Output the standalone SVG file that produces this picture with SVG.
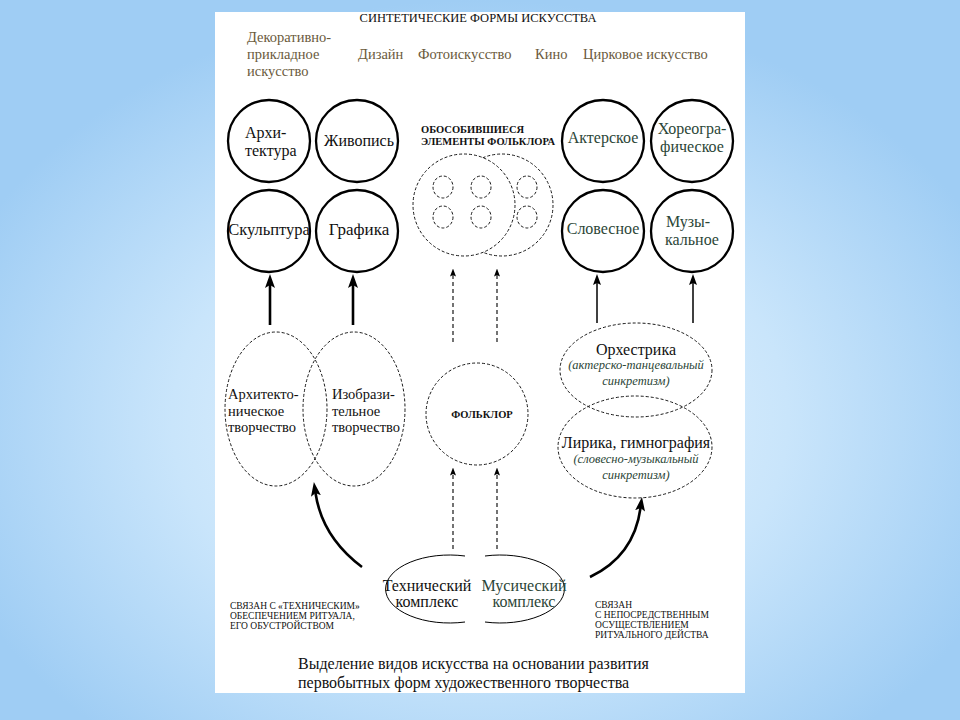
<svg xmlns="http://www.w3.org/2000/svg" width="960" height="720" viewBox="0 0 960 720">
<defs>
<radialGradient id="bg" cx="480" cy="420" r="560" gradientUnits="userSpaceOnUse" gradientTransform="translate(480 420) scale(1 0.75) translate(-480 -420)">
<stop offset="0" stop-color="#eef7fe"/>
<stop offset="0.55" stop-color="#c9e5fb"/>
<stop offset="1" stop-color="#9fcdf4"/>
</radialGradient>
<marker id="ah" markerUnits="userSpaceOnUse" markerWidth="14" markerHeight="10" refX="3" refY="5" orient="auto" viewBox="0 0 14 10">
<path d="M0,0 L14,5 L0,10 L3,5 Z" fill="#000"/>
</marker>
<marker id="ahs" markerUnits="userSpaceOnUse" markerWidth="11" markerHeight="8" refX="2" refY="4" orient="auto" viewBox="0 0 11 8">
<path d="M0,0 L11,4 L0,8 L2,4 Z" fill="#000"/>
</marker>
<marker id="ahd" markerUnits="userSpaceOnUse" markerWidth="8" markerHeight="6" refX="1.5" refY="3" orient="auto" viewBox="0 0 8 6">
<path d="M0,0 L8,3 L0,6 L1.5,3 Z" fill="#000"/>
</marker>
</defs>
<style>
text{font-family:"Liberation Serif","Times New Roman",serif;fill:#111}
.solid{fill:#fff;stroke:#000;stroke-width:2.3}
.dash{fill:none;stroke:#000;stroke-width:0.9;stroke-dasharray:3 2}
.dashw{fill:#fff;stroke:#000;stroke-width:0.9;stroke-dasharray:3 2}
.t15{font-size:15px}
.t16{font-size:16px}
.brown{fill:#6a5a3c;font-size:14.5px}
.green{fill:#2c4637}
.it{font-style:italic;font-size:12.5px;fill:#2c4637}
.caps{font-size:10.5px;font-weight:bold}
.small{font-size:9.5px}
.mid{text-anchor:middle}
.conn-solid{fill:none;stroke:#000;stroke-width:2.6}
.conn-thin{fill:none;stroke:#000;stroke-width:1.5}
.conn-dash{fill:none;stroke:#000;stroke-width:1.1;stroke-dasharray:4 3}
</style>
<rect x="0" y="0" width="960" height="720" fill="url(#bg)"/>
<rect x="215" y="12" width="530" height="681" fill="#fff"/>

<g id="title">
<text x="478" y="22" class="mid" style="font-size:12.5px">СИНТЕТИЧЕСКИЕ ФОРМЫ ИСКУССТВА</text>
</g>
<g id="synthetic-forms">
<text class="brown" x="247" y="42">Декоративно-</text>
<text class="brown" x="247" y="59">прикладное</text>
<text class="brown" x="247" y="76">искусство</text>
<text class="brown" x="358" y="59">Дизайн</text>
<text class="brown" x="418" y="59">Фотоискусство</text>
<text class="brown" x="535" y="59">Кино</text>
<text class="brown" x="583" y="59">Цирковое искусство</text>
</g>

<g id="arhitektura"><circle class="solid" cx="269" cy="141" r="41"/>
<text class="t16" x="245" y="138">Архи-</text><text class="t16" x="245" y="156">тектура</text></g>
<g id="zhivopis"><circle class="solid" cx="357" cy="141" r="41"/>
<text class="t16 mid" x="359" y="146">Живопись</text></g>
<g id="skulptura"><circle class="solid" cx="269" cy="231" r="41"/>
<text class="t16 mid" x="269" y="235" style="font-size:16.5px">Скульптура</text></g>
<g id="grafika"><circle class="solid" cx="357" cy="231" r="41"/>
<text class="t16 mid" x="359" y="235" style="font-size:17px">Графика</text></g>

<g id="akterskoe"><circle class="solid" cx="603" cy="141" r="41"/>
<text class="t16 mid green" x="603" y="143">Актерское</text></g>
<g id="horeograficheskoe"><circle class="solid" cx="692" cy="141" r="41"/>
<text class="t16 mid green" x="692" y="134">Хореогра-</text><text class="t16 mid green" x="692" y="152">фическое</text></g>
<g id="slovesnoe"><circle class="solid" cx="603" cy="231" r="41"/>
<text class="t16 mid green" x="603" y="234">Словесное</text></g>
<g id="muzykalnoe"><circle class="solid" cx="692" cy="231" r="41"/>
<text class="t16 mid green" x="688" y="227">Музы-</text><text class="t16 mid green" x="692" y="245">кальное</text></g>

<g id="folklore-elements">
<text class="caps" x="421" y="133">ОБОСОБИВШИЕСЯ</text>
<text class="caps" x="421" y="145">ЭЛЕМЕНТЫ ФОЛЬКЛОРА</text>
<circle class="dashw" cx="502" cy="205" r="51"/>
<circle class="dashw" cx="464" cy="205" r="51"/>
<ellipse class="dash" cx="443" cy="187" rx="10" ry="11"/>
<ellipse class="dash" cx="481" cy="187" rx="10" ry="11"/>
<ellipse class="dash" cx="527" cy="187" rx="10" ry="11"/>
<ellipse class="dash" cx="443" cy="217" rx="10" ry="11"/>
<ellipse class="dash" cx="481" cy="217" rx="10" ry="11"/>
<ellipse class="dash" cx="527" cy="217" rx="10" ry="11"/>
</g>

<g id="arhitektonicheskoe">
<ellipse class="dash" cx="276" cy="409" rx="51" ry="77"/>
<text x="228" y="399" style="font-size:14.5px">Архитекто-</text>
<text x="228" y="416" style="font-size:14.5px">ническое</text>
<text x="228" y="432" style="font-size:14.5px">творчество</text>
</g>
<g id="izobrazitelnoe">
<ellipse class="dash" cx="354" cy="409" rx="51" ry="77"/>
<text x="332" y="399" style="font-size:14.5px">Изобрази-</text>
<text x="332" y="416" style="font-size:14.5px">тельное</text>
<text x="332" y="432" style="font-size:14.5px">творчество</text>
</g>

<g id="folklor">
<circle class="dash" cx="477" cy="414" r="51"/>
<text class="caps mid" x="482" y="418">ФОЛЬКЛОР</text>
</g>

<g id="orhestrika">
<ellipse class="dash" cx="636" cy="370" rx="76" ry="47"/>
<text class="t16 mid" x="636" y="355">Орхестрика</text>
<text class="it mid" x="636" y="369">(актерско-танцевальный</text>
<text class="it mid" x="636" y="385">синкретизм)</text>
</g>
<g id="lirika">
<ellipse class="dash" cx="635" cy="447" rx="77" ry="51"/>
<text class="t16 mid" x="636" y="448">Лирика, гимнография</text>
<text class="it mid" x="636" y="463">(словесно-музыкальный</text>
<text class="it mid" x="636" y="479">синкретизм)</text>
</g>

<g id="tehnicheskiy">
<path d="M465,556 A64,34 0 1 0 465,622" fill="none" stroke="#000" stroke-width="1"/>
<text class="mid" x="427" y="591" style="font-size:16px">Технический</text>
<text class="mid" x="427" y="607" style="font-size:16px">комплекс</text>
</g>
<g id="musicheskiy">
<path d="M485,556 A64,34 0 1 1 485,622" fill="none" stroke="#000" stroke-width="1"/>
<text class="mid green" x="524" y="591" style="font-size:16px">Мусический</text>
<text class="mid green" x="524" y="607" style="font-size:16px">комплекс</text>
</g>

<g id="note-left">
<text class="small" x="230" y="609">СВЯЗАН С «ТЕХНИЧЕСКИМ»</text>
<text class="small" x="230" y="619">ОБЕСПЕЧЕНИЕМ РИТУАЛА,</text>
<text class="small" x="230" y="629">ЕГО ОБУСТРОЙСТВОМ</text>
</g>
<g id="note-right">
<text class="small" x="595" y="608">СВЯЗАН</text>
<text class="small" x="595" y="618">С НЕПОСРЕДСТВЕННЫМ</text>
<text class="small" x="595" y="628">ОСУЩЕСТВЛЕНИЕМ</text>
<text class="small" x="595" y="638">РИТУАЛЬНОГО ДЕЙСТВА</text>
</g>

<g id="caption">
<text x="298" y="669" style="font-size:16px">Выделение видов искусства на основании развития</text>
<text x="298" y="688" style="font-size:16px">первобытных форм художественного творчества</text>
</g>

<g id="connectors">
<line class="conn-solid" x1="270" y1="325" x2="270" y2="285" marker-end="url(#ah)"/>
<line class="conn-solid" x1="353" y1="325" x2="353" y2="285" marker-end="url(#ah)"/>
<line class="conn-thin" x1="597" y1="323" x2="597" y2="283" marker-end="url(#ahs)"/>
<line class="conn-thin" x1="693" y1="323" x2="693" y2="283" marker-end="url(#ahs)"/>
<line class="conn-dash" x1="453" y1="342" x2="453" y2="275" marker-end="url(#ahd)"/>
<line class="conn-dash" x1="497" y1="342" x2="497" y2="275" marker-end="url(#ahd)"/>
<line class="conn-dash" x1="453" y1="549" x2="453" y2="474" marker-end="url(#ahd)"/>
<line class="conn-dash" x1="497" y1="549" x2="497" y2="474" marker-end="url(#ahd)"/>
<path class="conn-solid" d="M362,567 Q322,537 315.5,493" marker-end="url(#ah)"/>
<path class="conn-solid" d="M590,577 Q634,556 640.5,508" marker-end="url(#ah)"/>
</g>
</svg>
